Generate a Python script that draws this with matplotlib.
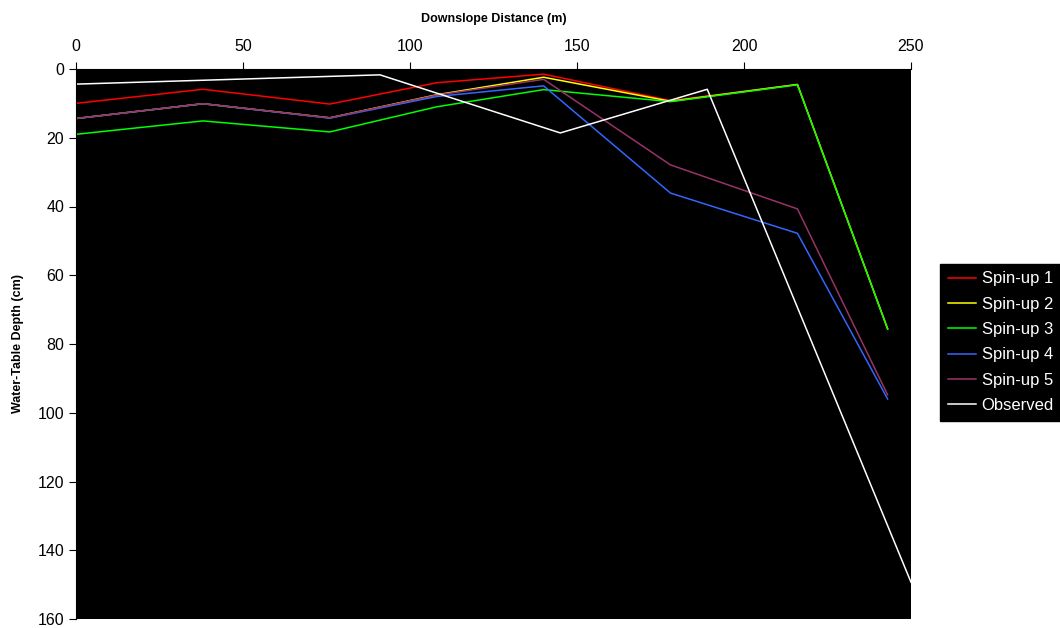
import matplotlib.pyplot as plt

plt.rcParams['font.family'] = ['Liberation Sans', 'DejaVu Sans']

# model nodes (m) and water-table depth (cm)
x_model = [0, 38, 76, 108, 140, 178, 216, 243]
spin1 = [10.0, 5.9, 10.2, 4.0, 1.5, 9.2, 4.5, 75.6]
spin2 = [14.4, 10.1, 14.2, 7.5, 2.4, 9.4, 4.5, 75.6]
spin3 = [19.0, 15.1, 18.3, 11.0, 6.0, 9.5, 4.6, 75.6]
spin4 = [14.4, 10.1, 14.3, 8.0, 4.9, 36.1, 47.8, 96.0]
spin5 = [14.4, 10.1, 14.2, 7.6, 3.0, 27.9, 40.7, 94.8]

x_obs = [0, 91, 145, 189, 250]
obs = [4.4, 1.7, 18.6, 5.9, 149.3]

labels = ['Spin-up 1', 'Spin-up 2', 'Spin-up 3', 'Spin-up 4', 'Spin-up 5', 'Observed']
colors = ['#ff0000', '#ffff00', '#00ff00', '#3366ff', '#993366', '#ffffff']

fig = plt.figure(figsize=(10.6, 6.28), dpi=100)
ax = fig.add_axes([76/1060, 1-619/628, (911-76)/1060, (619-69)/628])
ax.set_facecolor('black')

series = [spin1, spin2, spin3, spin4, spin5]
for vals, lab, c in zip(series, labels[:5], colors[:5]):
    ax.plot(x_model, vals, color=c, lw=1.1, label=lab)
ax.plot(x_obs, obs, color=colors[5], lw=1.1, label=labels[5])

ax.set_xlim(0, 250)
ax.set_ylim(160, 0)
ax.set_xticks(range(0, 251, 50))
ax.set_yticks(range(0, 161, 20))
ax.xaxis.tick_top()
ax.xaxis.set_label_position('top')
ax.tick_params(axis='both', labelsize=11.5, length=5, width=0.8, colors='black')
ax.tick_params(axis='x', pad=6)
for s in ['right', 'bottom']:
    ax.spines[s].set_visible(False)
ax.spines['top'].set_color('black')
ax.spines['left'].set_color('black')

ax.set_xlabel('Downslope Distance (m)', fontsize=9, fontweight='bold', labelpad=12)
ax.set_ylabel('Water-Table Depth (cm)', fontsize=9, fontweight='bold', labelpad=10)

leg = fig.legend(loc='upper left', bbox_to_anchor=(940/1060, 1-264/628),
                 facecolor='black', edgecolor='black', framealpha=1,
                 fontsize=12, handlelength=1.7, labelspacing=0.62,
                 borderpad=0.45, handletextpad=0.35, borderaxespad=0,
                 fancybox=False)
for t in leg.get_texts():
    t.set_color('white')

fig.savefig('out.png', dpi=100)
